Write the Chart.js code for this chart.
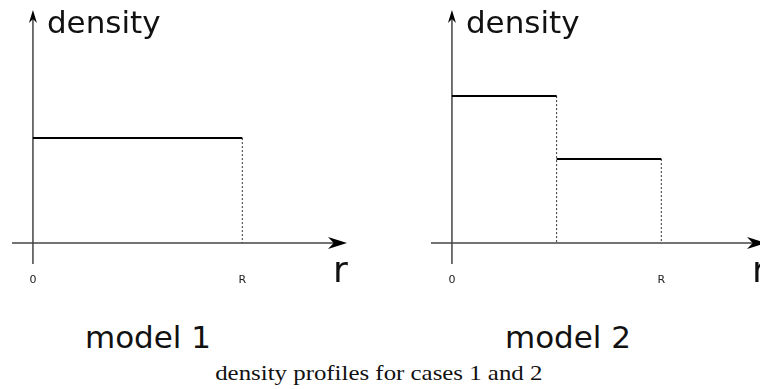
<!DOCTYPE html>
<html>
<head>
<meta charset="utf-8">
<script src="https://cdn.jsdelivr.net/npm/chart.js@4"></script>
<style>
    html, body { margin: 0; padding: 0; background: #fff; }
    body { width: 760px; height: 389px; position: relative; overflow: hidden; }
    canvas { position: absolute; top: 0; }
    #chart1 { left: 0; }
    #chart2 { left: 419px; }
    .name {
        position: absolute; top: 322px; width: 200px; margin-left: -100px;
        text-align: center; font: 31px/31px 'DejaVu Sans', sans-serif; color: #111;
    }
    #capwrap { position: absolute; top: 362px; left: 0; width: 758px; text-align: center; }
    #caption {
        display: inline-block; transform: scaleX(1.13); transform-origin: center;
        font: 22px/22px 'Liberation Serif', serif; color: #111;
    }
</style>
</head>
<body>
<canvas id="chart1" width="419" height="300"></canvas>
<canvas id="chart2" width="419" height="300"></canvas>
<div class="name" id="name1" style="left:148px"></div>
<div class="name" id="name2" style="left:568px"></div>
<div id="capwrap"><span id="caption"></span></div>

<script>
// radius in units of R, density in arbitrary units
const tickValues = [0, 1];
const tickLabels = ['0', 'R'];
const model1Edges = [0, 1];
const model1Levels = [1.0];
const model2Edges = [0, 0.5, 1];
const model2Levels = [1.4, 0.8];
const modelNames = ['model 1', 'model 2'];
const yTitle = 'density';
const xTitle = 'r';
const captionText = 'density profiles for cases 1 and 2';

function arrowHead(ctx, tipX, tipY, dirX, dirY, len, half) {
    // concave arrow head pointing along (dirX, dirY)
    const nx = -dirY, ny = dirX;
    const bx = tipX - dirX * len, by = tipY - dirY * len;
    ctx.beginPath();
    ctx.moveTo(tipX, tipY);
    ctx.lineTo(bx + nx * half, by + ny * half);
    ctx.lineTo(tipX - dirX * len * 0.7, tipY - dirY * len * 0.7);
    ctx.lineTo(bx - nx * half, by - ny * half);
    ctx.closePath();
    ctx.fill();
}

const axesPlugin = {
    id: 'axesPlugin',
    beforeDatasetsDraw(chart) {
        const ctx = chart.ctx;
        const area = chart.chartArea;
        const xs = chart.scales.x, ys = chart.scales.y;
        const x0 = xs.getPixelForValue(0);
        const y0 = ys.getPixelForValue(0);
        ctx.save();
        ctx.strokeStyle = '#444';
        ctx.fillStyle = '#000';
        ctx.lineWidth = 1.5;
        // vertical axis
        ctx.beginPath();
        ctx.moveTo(x0, area.bottom);
        ctx.lineTo(x0, area.top + 6);
        ctx.stroke();
        arrowHead(ctx, x0, area.top, 0, -1, 13, 4);
        // horizontal axis
        ctx.beginPath();
        ctx.moveTo(area.left, y0);
        ctx.lineTo(area.right - 8, y0);
        ctx.stroke();
        arrowHead(ctx, area.right, y0, 1, 0, 19, 6);
        // titles
        ctx.fillStyle = '#111';
        ctx.textBaseline = 'alphabetic';
        ctx.textAlign = 'left';
        ctx.font = '31px "DejaVu Sans"';
        ctx.fillText(yTitle, x0 + 14, area.top + 23);
        ctx.font = '36px "DejaVu Sans"';
        ctx.fillText(xTitle, area.right - 14, y0 + 39);
        // tick labels
        ctx.font = '11px "DejaVu Sans"';
        ctx.textAlign = 'center';
        ctx.fillStyle = '#222';
        tickValues.forEach(function(v, i) {
            ctx.fillText(tickLabels[i], xs.getPixelForValue(v), y0 + 40);
        });
        ctx.restore();
    }
};

function buildDatasets(edges, levels) {
    const sets = [];
    levels.forEach(function(lv, i) {
        sets.push({
            data: [{x: edges[i], y: lv}, {x: edges[i + 1], y: lv}],
            borderColor: '#000',
            borderWidth: 2,
            pointRadius: 0
        });
    });
    for (let j = 1; j < edges.length; j++) {
        const top = Math.max(levels[j - 1], levels[j] || 0);
        sets.push({
            data: [{x: edges[j], y: top}, {x: edges[j], y: 0}],
            borderColor: '#333',
            borderWidth: 1,
            borderDash: [2, 2],
            pointRadius: 0
        });
    }
    return sets;
}

function createProfileChart(canvasId, edges, levels) {
    const ctx = document.getElementById(canvasId).getContext('2d');
    return new Chart(ctx, {
        type: 'line',
        data: { datasets: buildDatasets(edges, levels) },
        options: {
            responsive: false,
            animation: false,
            devicePixelRatio: 1,
            layout: { padding: { left: 12, right: 72, top: 10, bottom: 36 } },
            scales: {
                x: { type: 'linear', min: -0.1, max: 1.5, display: false },
                y: { type: 'linear', min: -0.2, max: 2.22, display: false }
            },
            plugins: {
                legend: { display: false },
                tooltip: { enabled: false }
            }
        },
        plugins: [axesPlugin]
    });
}

createProfileChart('chart1', model1Edges, model1Levels);
createProfileChart('chart2', model2Edges, model2Levels);
document.getElementById('name1').textContent = modelNames[0];
document.getElementById('name2').textContent = modelNames[1];
document.getElementById('caption').textContent = captionText;
</script>
</body>
</html>
